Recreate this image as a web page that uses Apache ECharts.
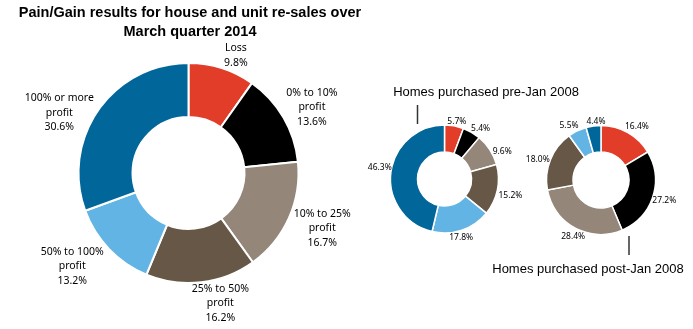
<!DOCTYPE html>
<html>
<head>
<meta charset="utf-8">
<script src="https://cdn.jsdelivr.net/npm/echarts@6/dist/echarts.min.js"></script>
<style>
html,body{margin:0;padding:0;background:#fff;}
#chart{width:693px;height:329px;}
</style>
</head>
<body>
<div id="chart"></div>
<script>
const categories = ['Loss', '0% to 10%\nprofit', '10% to 25%\nprofit', '25% to 50%\nprofit', '50% to 100%\nprofit', '100% or more\nprofit'];
const allValues = [9.8, 13.6, 16.7, 16.2, 13.2, 30.6];
const preValues = [5.7, 5.4, 9.6, 15.2, 17.8, 46.3];
const postValues = [16.4, 27.2, 28.4, 18.0, 5.5, 4.4];
const colors = ['#E23D28', '#000000', '#948779', '#675746', '#61B4E4', '#01669A'];
const titleText = 'Pain/Gain results for house and unit re-sales over\nMarch quarter 2014';
const preTitle = 'Homes purchased pre-Jan 2008';
const postTitle = 'Homes purchased post-Jan 2008';

// label placement nudges (style only): [angle shift in degrees, extra gap in px]
const mainNudge = [[4.3, -1], [2.3, -3], [-1.7, 0], [-7.1, -4], [5, 1], [-10, -8]];
const preNudge = [[2, -3], [5.4, -2], [7.3, -1], [2, 1], [2.7, -2], [3.5, -1]];
const postNudge = [[4.2, -1], [0, -1], [-2, -2], [-3.6, -1], [-4.7, -1], [3, -2]];

function makeLayout(values, cx, cy, R, nudge) {
  const total = values.reduce((a, b) => a + b, 0);
  return function (p) {
    let cum = 0;
    for (let i = 0; i < p.dataIndex; i++) cum += values[i];
    const n = nudge[p.dataIndex];
    const mid = (cum + values[p.dataIndex] / 2) / total * Math.PI * 2 + n[0] * Math.PI / 180;
    const dx = Math.sin(mid), dy = -Math.cos(mid);
    const w = p.labelRect.width, h = p.labelRect.height;
    const d = R + n[1] + Math.abs(dx) * w / 2 + Math.abs(dy) * h / 2;
    return { x: cx + dx * d, y: cy + dy * d, align: 'center', verticalAlign: 'middle' };
  };
}

function pieSeries(values, names, center, radius, fontSize, lineHeight, nudge, borderWidth, withName) {
  return {
    type: 'pie',
    center: center,
    radius: radius,
    startAngle: 90,
    clockwise: true,
    avoidLabelOverlap: false,
    silent: true,
    animation: false,
    itemStyle: { borderColor: '#ffffff', borderWidth: borderWidth },
    label: {
      show: true,
      position: 'outside',
      color: '#000',
      fontFamily: 'Noto Sans',
      fontSize: fontSize,
      lineHeight: lineHeight,
      formatter: function (p) {
        const v = p.value.toFixed(1) + '%';
        return withName ? p.name + '\n' + v : v;
      }
    },
    labelLine: { show: false },
    labelLayout: makeLayout(values, center[0], center[1], radius[1], nudge),
    data: values.map((v, i) => ({ name: names[i], value: v, itemStyle: { color: colors[i] } }))
  };
}

const chart = echarts.init(document.getElementById('chart'), null, { renderer: 'canvas' });
chart.setOption({
  backgroundColor: '#ffffff',
  animation: false,
  title: [
    {
      text: titleText, left: 190, top: 4, textAlign: 'center', padding: 0,
      textStyle: { fontFamily: 'Liberation Sans', fontWeight: 'bold', fontSize: 14.5, lineHeight: 18.4, color: '#000' }
    },
    {
      text: preTitle, left: 486, top: 84, textAlign: 'center', padding: 0,
      textStyle: { fontFamily: 'Liberation Sans', fontWeight: 'normal', fontSize: 13, lineHeight: 16, color: '#000' }
    },
    {
      text: postTitle, left: 588, top: 261, textAlign: 'center', padding: 0,
      textStyle: { fontFamily: 'Liberation Sans', fontWeight: 'normal', fontSize: 13, lineHeight: 16, color: '#000' }
    }
  ],
  graphic: [
    { type: 'line', shape: { x1: 417.5, y1: 105, x2: 417.5, y2: 124 }, style: { stroke: '#333', lineWidth: 1.5 } },
    { type: 'line', shape: { x1: 629, y1: 236, x2: 629, y2: 255 }, style: { stroke: '#333', lineWidth: 1.5 } }
  ],
  series: [
    pieSeries(allValues, categories, [188.5, 173], [56, 110], 10.5, 14.5, mainNudge, 2, true),
    pieSeries(preValues, categories, [444.5, 179], [27, 54], 8.5, 11, preNudge, 1.5, false),
    pieSeries(postValues, categories, [601, 180], [28, 54.5], 8.5, 11, postNudge, 1.5, false)
  ]
});
</script>
</body>
</html>
